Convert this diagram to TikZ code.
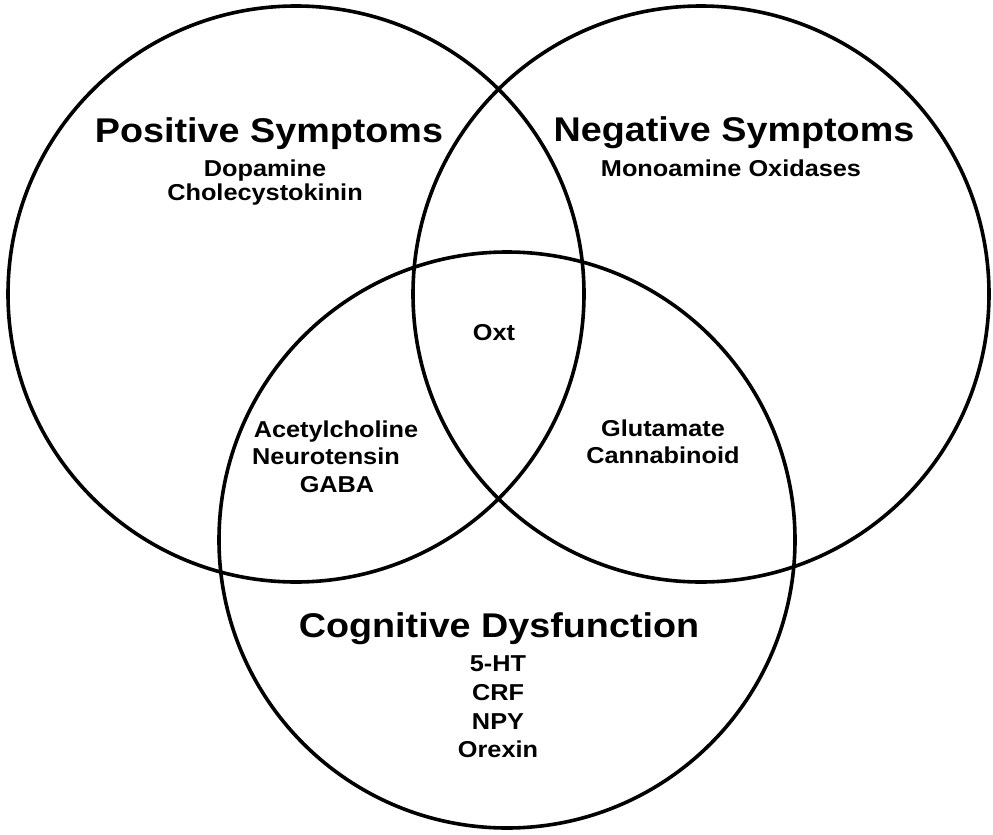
\documentclass[tikz,border=0pt]{standalone}
\usepackage{fontspec}
\setmainfont{Liberation Sans}[FakeStretch=1.1]
\begin{document}
\begin{tikzpicture}[x=1pt,y=-1pt,
  ring/.style={circle,draw=black,line width=3.6pt,minimum size=576pt,inner sep=0pt,outer sep=0pt},
  title/.style={font=\fontsize{34.3}{40}\selectfont\bfseries,anchor=base,inner sep=0pt},
  item/.style={font=\fontsize{23}{26}\selectfont\bfseries,anchor=base,inner sep=0pt}]
\useasboundingbox (0,0) rectangle (993,835);
\fill[white] (0,0) rectangle (993,835);
\node[ring] (pos) at (296,294) {};
\node[ring] (neg) at (701,294) {};
\node[ring] (cog) at (507,540) {};
\node[title] (tpos) at (269,142) {Positive Symptoms};
\node[item] (dop) at (265,176) {Dopamine};
\node[item] (cck) at (265,200) {Cholecystokinin};
\node[title] (tneg) at (734,141) {Negative Symptoms};
\node[item] (mao) at (731,176) {Monoamine Oxidases};
\node[item] (oxt) at (494,340) {Oxt};
\node[item] (ach) at (336,437) {Acetylcholine};
\node[item] (nts) at (326,464) {Neurotensin};
\node[item] (gaba) at (337,492) {GABA};
\node[item] (glu) at (663,436) {Glutamate};
\node[item] (cb) at (663,463) {Cannabinoid};
\node[title] (tcog) at (499,637) {Cognitive Dysfunction};
\node[item] (ht) at (498,671) {5-HT};
\node[item] (crf) at (498,700) {CRF};
\node[item] (npy) at (498,729) {NPY};
\node[item] (orx) at (498,757) {Orexin};
\end{tikzpicture}
\end{document}
